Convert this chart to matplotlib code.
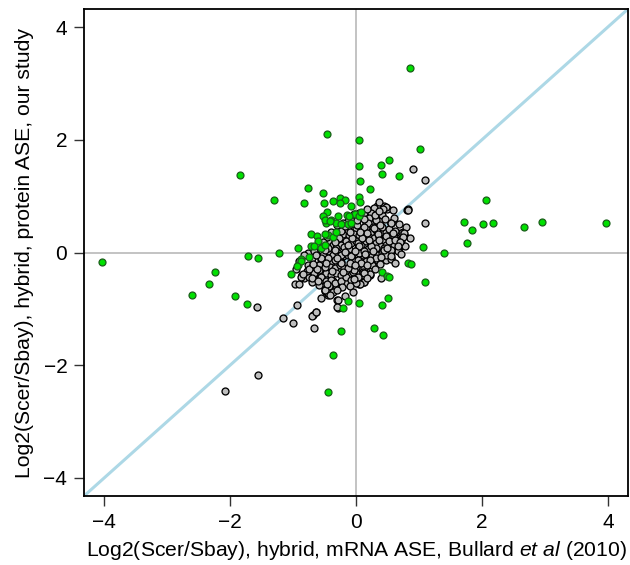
import matplotlib
matplotlib.use("Agg")
import matplotlib.pyplot as plt
import numpy as np

plt.rcParams['font.family'] = ['Liberation Sans', 'DejaVu Sans']
plt.rcParams['mathtext.fontset'] = 'custom'
plt.rcParams['mathtext.rm'] = 'Liberation Sans'
plt.rcParams['mathtext.it'] = 'Liberation Sans:italic'

# Non-significant genes (gray)
gray_pts = [
    (0.09,0.70),(0.21,0.74),(0.33,0.76),(0.41,0.80),(0.49,0.79),(0.81,0.76),(0.36,0.73),(-0.03,0.68),
    (0.19,0.58),(0.24,0.61),(0.30,0.56),(0.16,0.52),(0.25,0.50),(0.55,0.52),(0.39,0.58),(-0.13,0.55),(-0.21,0.52),(-0.05,0.52),
    (-0.24,0.43),(-0.16,0.43),(-0.08,0.40),(0.00,0.43),(0.08,0.40),(0.16,0.43),(0.24,0.37),(0.32,0.40),(0.40,0.34),(0.48,0.37),
    (0.58,0.36),(0.66,0.33),(0.77,0.31),(0.74,0.37),(-0.29,0.34),(-0.34,0.28),(-0.20,0.33),(-0.11,0.31),(-0.03,0.33),(0.05,0.31),
    (0.13,0.30),(0.21,0.28),(0.29,0.25),(0.37,0.27),(0.45,0.23),(0.53,0.25),
    (-0.42,0.20),(-0.37,0.14),(-0.29,0.20),(-0.24,0.14),(-0.16,0.20),(-0.08,0.17),(0.00,0.20),(0.08,0.14),(0.16,0.20),(0.24,0.14),
    (0.32,0.17),(0.40,0.11),(0.48,0.14),(0.56,0.17),(0.64,0.14),(0.72,0.20),(0.69,0.08),(-0.48,0.11),(-0.32,0.08),(-0.19,0.09),
    (-0.11,0.07),(0.03,0.08),(0.19,0.07),(0.32,0.08),(0.50,0.07),(0.58,0.05),
    (-0.61,-0.01),(-0.53,-0.04),(-0.45,0.02),(-0.37,-0.04),(-0.29,-0.01),(-0.21,-0.07),(-0.13,-0.04),(-0.05,-0.10),(0.03,-0.04),
    (0.11,-0.10),(0.19,-0.04),(0.26,-0.07),(0.34,-0.04),(0.42,-0.01),(0.50,-0.07),(0.56,-0.10),(-0.56,-0.13),(-0.40,-0.16),
    (-0.24,-0.16),(0.00,-0.16),(0.16,-0.15),(0.34,-0.13),(0.48,-0.13),
    (-0.77,-0.22),(-0.69,-0.25),(-0.58,-0.22),(-0.50,-0.28),(-0.42,-0.25),(-0.34,-0.28),(-0.26,-0.22),(-0.19,-0.28),(-0.11,-0.25),
    (-0.03,-0.31),(0.05,-0.25),(0.13,-0.28),(0.25,-0.22),(0.25,-0.29),(-0.85,-0.40),(-0.72,-0.40),(-0.64,-0.37),(-0.56,-0.43),
    (-0.48,-0.37),(-0.40,-0.40),(-0.32,-0.37),(-0.24,-0.40),(-0.16,-0.37),(-0.08,-0.40),(0.00,-0.37),(0.11,-0.34),(0.23,-0.40),
    (-0.82,-0.46),(-0.66,-0.49),(-0.53,-0.54),(-0.37,-0.51),(-0.29,-0.57),(-0.16,-0.54),(0.05,-0.56),(0.08,-0.51),(0.13,-0.53),
    (-0.49,-0.69),(-0.45,-0.75),(-0.30,-0.84),(-0.28,-0.98),(-0.64,-1.05),(-0.69,-1.11),
    (0.34,0.83),(0.45,0.82),(0.49,0.77),(0.82,0.77),(0.55,0.52),(0.72,0.34),(0.64,0.37),(0.76,0.31),(0.69,0.20),(0.61,0.14),
    (0.66,0.08),(0.53,0.02),(0.45,-0.01),(0.29,0.79),(0.13,0.70),(0.24,0.70),(0.21,0.61),(0.32,0.58),(0.19,0.52),(0.27,0.46),
    (0.34,0.40),(0.42,0.46),
    (0.13,-0.53),(0.06,-0.56),(0.23,-0.39),(-0.04,-0.47),(0.25,-0.22),(0.55,-0.11),(0.66,0.02),(0.13,-0.37),(-0.04,-0.35),
    (0.11,-0.05),(0.31,-0.09),(0.47,-0.05),(0.56,0.05),(0.45,0.08),(0.24,0.11),(0.03,0.17),(-0.05,-0.13),(0.00,-0.25),(0.05,-0.01),
    (-0.77,-0.01),(-0.69,-0.22),(-0.85,-0.40),(-0.74,-0.43),(-0.66,-0.37),(-0.58,-0.31),(-0.50,-0.25),(-0.56,-0.43),(-0.48,-0.51),
    (-0.40,-0.48),(-0.50,-0.66),(-0.45,-0.72),(-0.32,-0.63),(-0.29,-0.84),(-0.34,-0.54),(-0.24,-0.51),(-0.16,-0.43),(-0.08,-0.48),
    (0.00,-0.54),(0.03,-0.43),(-0.03,-0.31),(-0.13,-0.28),(-0.24,-0.19),(-0.34,-0.13),(-0.45,-0.10),(-0.56,-0.10),(-0.24,-0.04),
    (-0.08,-0.07),(0.03,-0.13),
    (-0.13,0.40),(-0.24,0.39),(-0.34,0.23),(-0.45,0.08),(-0.64,-0.02),(-0.04,0.55),(0.05,0.70),
    (-0.40,0.36),(-0.18,0.47),(0.02,0.48),(0.12,0.46),(0.28,0.44),(0.38,0.49),(0.52,0.42),(0.60,0.28),(0.47,0.30),(0.35,0.33),
    (0.18,0.35),(0.09,0.25),(-0.07,0.26),(-0.27,0.26),(-0.46,0.27),(-0.52,0.18),(-0.33,0.18),(-0.13,0.13),(0.05,0.12),(0.20,0.22),
    (0.36,0.22),(0.52,0.20),(0.62,0.22),(0.44,0.04),(0.27,0.03),(0.12,0.02),(-0.02,0.02),(-0.17,0.01),(-0.33,0.04),(-0.50,0.05),
    (-0.66,0.03),(-0.70,-0.10),(-0.48,-0.18),(-0.30,-0.10),(-0.10,-0.18),(0.08,-0.18),(0.22,-0.14),(0.40,-0.08),(0.38,-0.20),
    (0.18,-0.23),(-0.01,-0.22),(-0.20,-0.34),(-0.38,-0.33),(-0.62,-0.30),(-0.78,-0.32),(-0.70,-0.52),(-0.58,-0.58),(-0.43,-0.60),
    (-0.22,-0.62),(-0.10,-0.60),(-0.05,-0.70),(0.18,-0.46),(0.30,-0.30),(0.15,-0.03),(0.06,0.36),(-0.10,0.36),(0.30,0.66),
    (0.18,0.78),(0.41,0.66),(0.60,0.62),(0.68,0.50),(0.80,0.45),(0.85,0.25),(0.78,0.12),(0.72,-0.02),(0.62,-0.18),(0.40,-0.45),
    (-0.95,-0.30),(-0.90,-0.15),(-0.82,-0.05),(-0.36,-0.70),(-0.55,-0.80),(-0.18,-0.78),(0.02,0.58),(-0.30,0.48),(0.12,0.60),
    (0.46,0.60),(0.36,0.90),(0.58,0.76),
    (0.90,1.49),(1.10,1.28),(0.82,0.76),(1.10,0.52),(0.55,0.53),(0.48,0.81),(0.43,0.77),(0.36,0.74),(0.62,0.39),(0.58,0.35),
    (0.76,0.35),(0.74,0.28),(0.70,0.19),(0.66,0.11),(0.49,0.08),(0.56,-0.07),
    (-1.58,-0.97),(-1.16,-1.17),(-1.00,-1.25),(-0.93,-0.93),(-1.55,-2.17),(-2.08,-2.46),(-0.70,-1.12),(-0.63,-1.05),(-0.66,-1.34),
    (-0.50,-0.67),(-0.42,-0.75),(-0.30,-0.67),(-0.30,-0.97),(-0.97,-0.55),(-0.90,-0.56),(-0.87,-0.43),(-0.84,-0.38),
    (-0.70,-0.46),(-0.74,-0.30),(-0.69,-0.21),(-0.64,-0.04),(-0.60,-0.51),(-0.46,-0.56),(-0.03,-0.47),
]

# Significant genes (green)
green_pts = [
    (-0.46,2.10),(-1.85,1.37),(-0.77,1.14),(-1.31,0.94),(-0.83,0.87),(-0.52,1.05),(-0.51,0.88),(-0.37,0.92),(-0.25,0.97),
    (-0.17,0.94),(-0.25,0.87),(-0.08,0.82),(0.04,1.99),(0.04,1.53),(0.07,1.26),(0.04,0.99),(0.06,0.89),(-0.46,0.72),(-0.52,0.65),
    (-0.29,0.65),(-0.15,0.66),(-0.02,0.69),(-0.40,0.58),(-0.48,0.53),(-0.32,0.52),(-0.24,0.51),(-0.13,0.51),(-0.72,0.33),
    (-0.62,0.30),(-0.61,0.21),(-0.72,0.12),(-0.67,0.12),(-0.92,0.08),(-0.56,0.08),(-0.50,0.14),(-0.45,0.31),(-0.37,0.28),
    (-0.32,0.36),(-1.22,-0.01),(-1.71,-0.06),(-1.56,-0.09),(-0.88,-0.12),(-0.74,-0.08),
    (0.85,3.28),(1.02,1.84),(0.40,1.56),(0.53,1.64),(0.42,1.40),(0.68,1.36),(0.23,1.12),(2.07,0.94),(1.71,0.54),(1.84,0.40),
    (2.02,0.50),(2.17,0.53),(2.67,0.45),(2.95,0.54),(3.97,0.52),(1.76,0.17),(1.07,0.09),(1.40,0.00),
    (-4.03,-0.17),(-2.60,-0.76),(-2.33,-0.55),(-2.24,-0.34),(-1.92,-0.78),(-1.73,-0.92),(-1.03,-0.39),(-0.92,-0.23),(-0.87,-0.15),
    (-0.12,-0.86),(-0.20,-0.98),(0.04,-0.89),(-0.24,-1.40),(-0.37,-1.82),(-0.44,-2.48),
    (0.82,-0.18),(0.88,-0.20),(0.42,-0.35),(0.49,-0.41),(0.52,-0.44),(1.09,-0.53),(0.51,-0.80),(0.42,-0.94),(0.29,-1.34),
    (0.43,-1.47),
    (-0.50,0.58),(-0.42,0.55),(-0.11,0.64),(0.04,0.64),(0.08,0.71),(-0.08,0.52),(-0.50,0.33),(-0.93,-0.24),
]

ticks = [-4, -2, 0, 2, 4]
lim = 4.32

fig = plt.figure(figsize=(6.3, 5.65), dpi=100)
ax = fig.add_axes([84/630, 1-496/565, (628-84)/630, (496-9)/565])

ax.axhline(0, color='#BEBEBE', lw=1.3, zorder=1)
ax.axvline(0, color='#BEBEBE', lw=1.3, zorder=1)
ax.plot([-lim, lim], [-lim, lim], color='#ADD8E6', lw=2.2, zorder=1, solid_capstyle='butt')

gx, gy = zip(*gray_pts)
ax.scatter(gx, gy, s=25, facecolor='#BEBEBE', edgecolor='black', linewidths=0.95, zorder=2)
kx, ky = zip(*green_pts)
ax.scatter(kx, ky, s=25, facecolor='#00E000', edgecolor='#1A5E1A', linewidths=0.9, zorder=3)

ax.set_xlim(-lim, lim)
ax.set_ylim(-lim, lim)
ax.set_xticks(ticks)
ax.set_yticks(ticks)
ax.set_xticklabels([str(t).replace('-', '\u2212') for t in ticks])
ax.set_yticklabels([str(t).replace('-', '\u2212') for t in ticks])
ax.tick_params(direction='out', length=7, width=1, labelsize=15, pad=5, color='#333333')
for sp in ax.spines.values():
    sp.set_linewidth(1.3)

ax.set_xlabel(r'Log2(Scer/Sbay), hybrid, mRNA ASE, Bullard $\mathit{et\ al}$ (2010)', fontsize=15.2, labelpad=5)
ax.set_ylabel('Log2(Scer/Sbay), hybrid, protein ASE, our study', fontsize=15.2, labelpad=7)

fig.savefig('out.png', dpi=100)
